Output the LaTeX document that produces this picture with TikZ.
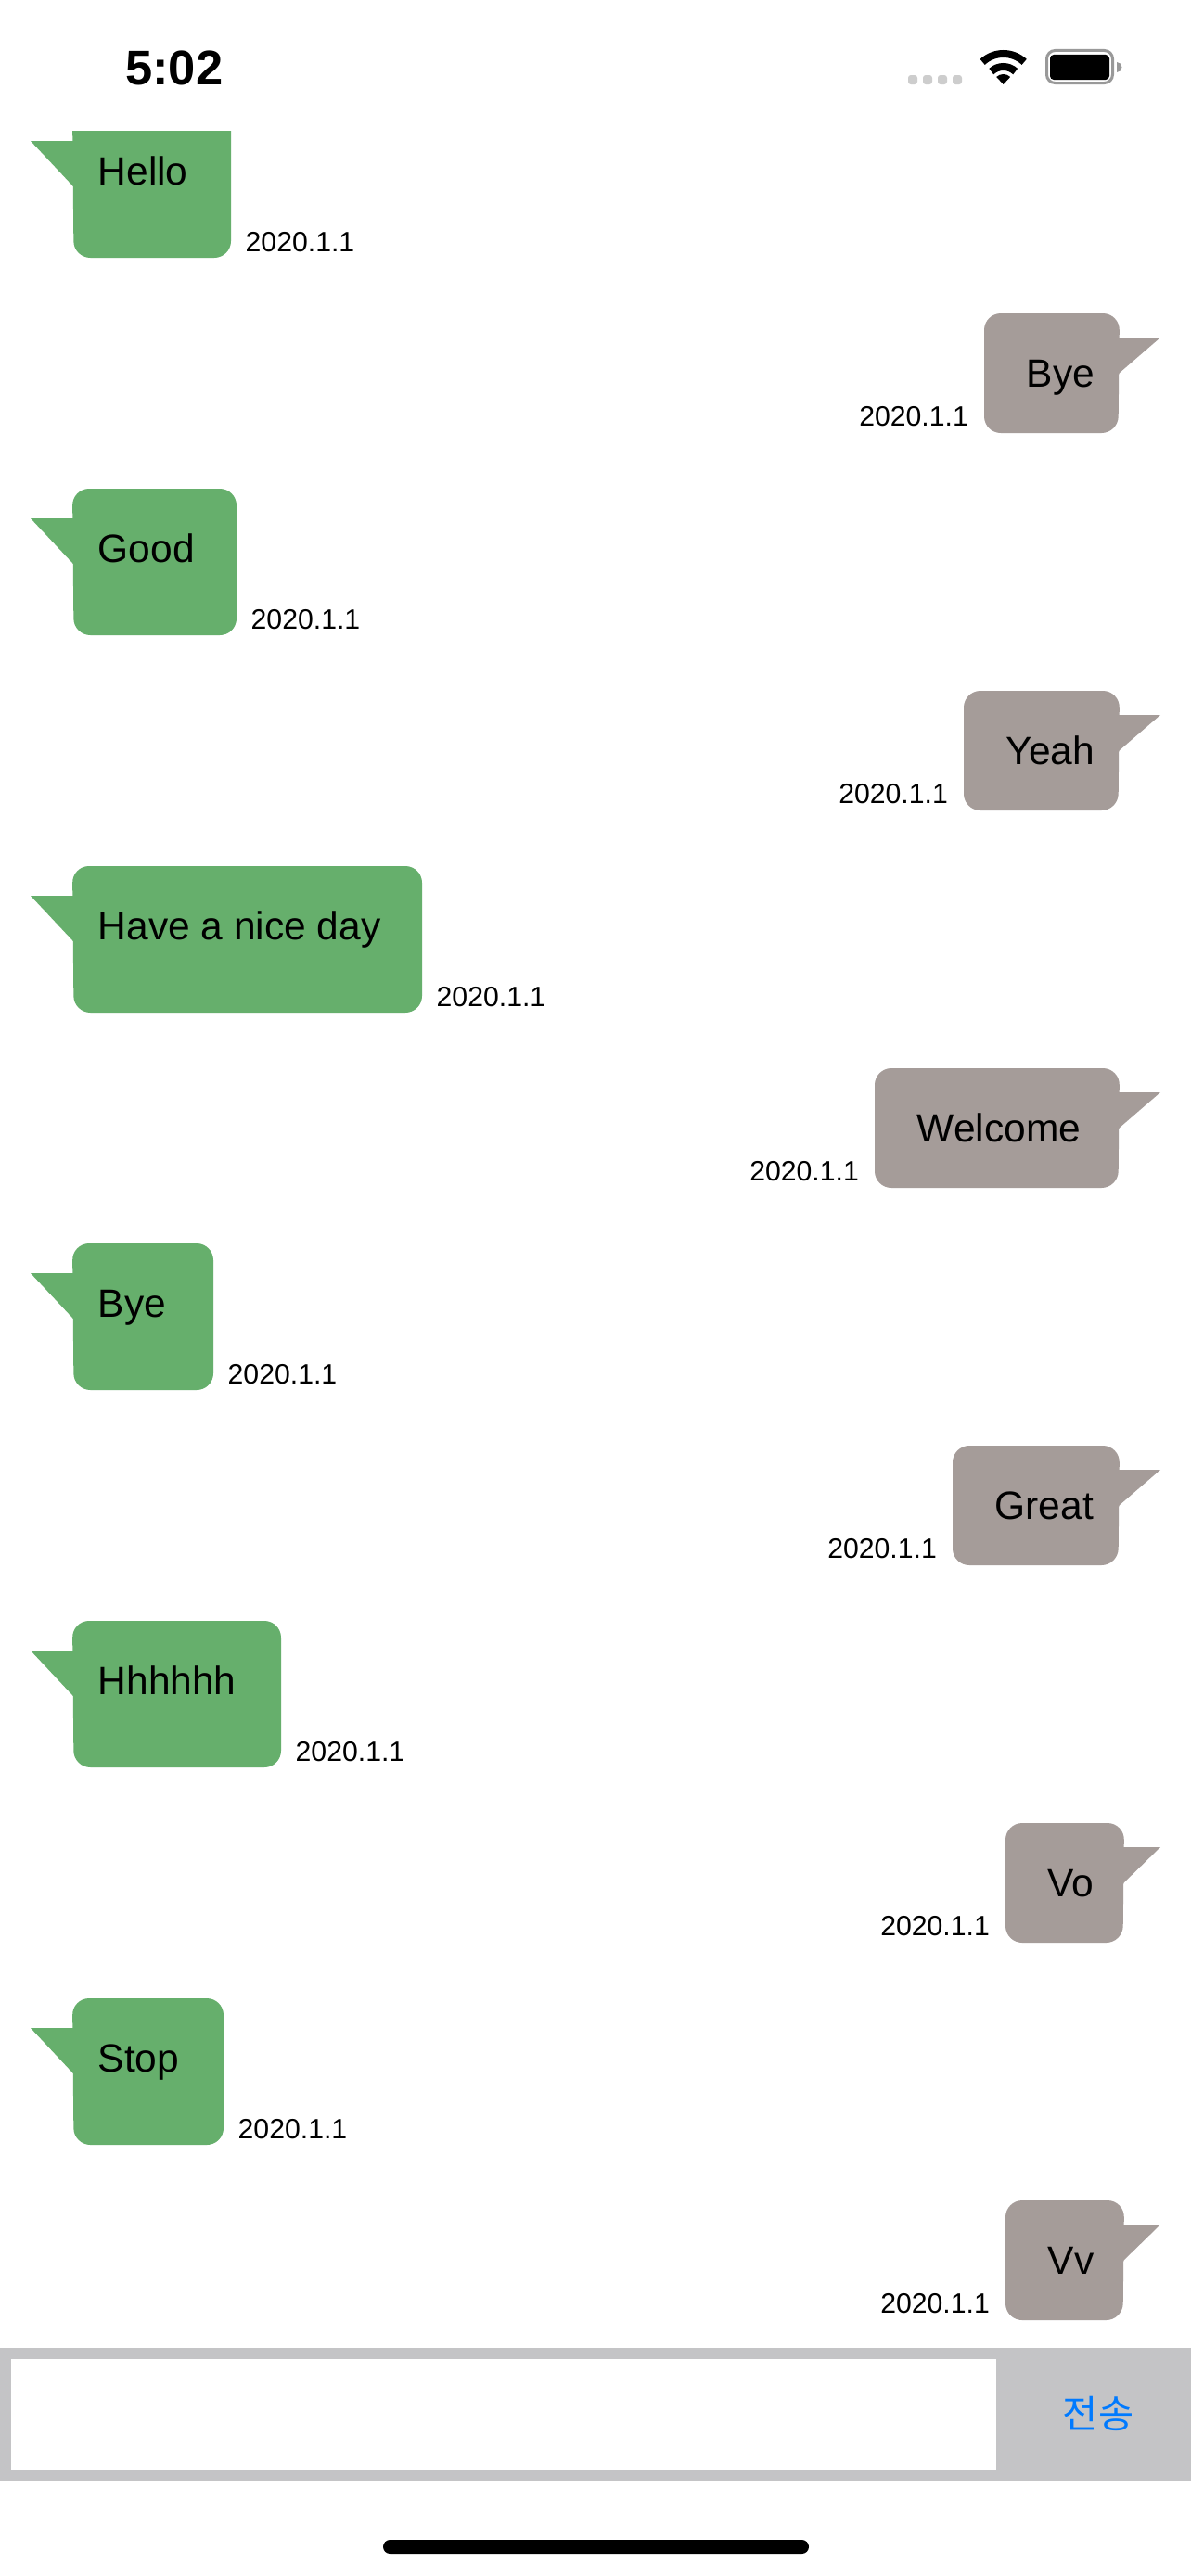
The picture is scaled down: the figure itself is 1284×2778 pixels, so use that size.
\documentclass[tikz,border=0pt]{standalone}
\usepackage{fontspec}
\setmainfont{Liberation Sans}
\newfontfamily\cjkfont{Noto Sans CJK KR}
\definecolor{bubblegreen}{HTML}{66AF6C}
\definecolor{bubblegray}{HTML}{A59C99}
\definecolor{barcolor}{HTML}{C4C4C6}
\definecolor{sendblue}{HTML}{007AFF}
\definecolor{dotgray}{HTML}{CDCDCD}
\definecolor{battgray}{HTML}{999999}
\tikzset{
  msgtext/.style={inner sep=0pt,font=\fontsize{42.5}{42}\selectfont,text=black},
  datetext/.style={inner sep=0pt,font=\fontsize{30.2}{30}\selectfont,text=black},
  sigdot/.style={fill=dotgray,rounded corners=3pt},
  wifiarc/.style={draw=black,line width=8pt},
}
% #1 name, #2 top, #3 right edge, #4 text
\newcommand{\greenbubble}[4]{
  \fill[bubblegreen,rounded corners=18pt] (78,#2) -- (#3,#2) -- (#3,#2+158) -- (79.5,#2+158) -- cycle;
  \fill[bubblegreen] (33,#2+32) -- (79,#2+32) -- (79,#2+81) -- (78,#2+80) -- cycle;
  \node[msgtext,anchor=base west] (#1) at (105.5,#2+79) {#4};
  \node[datetext,anchor=base west] (#1date) at (#3+15.5,#2+151) {2020.1.1};
}
% #1 name, #2 top, #3 left edge, #4 right edge, #5 text
\newcommand{\graybubble}[5]{
  \fill[bubblegray,rounded corners=18pt] (#3,#2) -- (#4,#2) -- (#4-1.5,#2+129) -- (#3,#2+129) -- cycle;
  \fill[bubblegray] (1251,#2+26) -- (#4-1,#2+26) -- (#4-1,#2+65) -- (#4,#2+64) -- cycle;
  \node[msgtext,anchor=base west] (#1) at (#3+45.5,#2+79) {#5};
  \node[datetext,anchor=base east] (#1date) at (#3-17,#2+121) {2020.1.1};
}
\begin{document}
\begin{tikzpicture}[x=1pt,y=-1pt]
\useasboundingbox (0,0) rectangle (1284,2778);
\fill[white] (0,0) rectangle (1284,2778);
% status bar
\node[inner sep=0pt,anchor=base west,font=\fontsize{52.5}{52}\selectfont\bfseries] (clock) at (135,91) {5:02};
\foreach \cx in {984,1000,1016,1032}
  \fill[sigdot] (\cx-5,81) rectangle (\cx+5,91);
\coordinate (wifi) at (1081.7,91);
\fill[black] (wifi) -- ++(-133:11) arc[start angle=-133,end angle=-47,radius=11] -- cycle;
\draw[wifiarc] ([shift={(-133:19)}]wifi) arc[start angle=-133,end angle=-47,radius=19];
\draw[wifiarc] ([shift={(-133:33)}]wifi) arc[start angle=-133,end angle=-47,radius=33];
\draw[battgray,line width=3pt,rounded corners=9pt] (1128.5,54.5) rectangle (1199.5,89.5);
\fill[black,rounded corners=4pt] (1132,59) rectangle (1196,86);
\fill[battgray] (1204,67) arc[start angle=-90,end angle=90,radius=5.5] -- cycle;
% messages
\begin{scope}
  \clip (0,141) rectangle (1284,2778);
  \greenbubble{m1}{120}{249}{Hello}
\end{scope}
\graybubble{m2}{338}{1061}{1207}{Bye}
\greenbubble{m3}{527}{255}{Good}
\graybubble{m4}{745}{1039}{1207}{Yeah}
\greenbubble{m5}{934}{455}{Have a nice day}
\graybubble{m6}{1152}{943}{1207}{Welcome}
\greenbubble{m7}{1341}{230}{Bye}
\graybubble{m8}{1559}{1027}{1207}{Great}
\greenbubble{m9}{1748}{303}{Hhhhhh}
\graybubble{m10}{1966}{1084}{1212}{Vo}
\greenbubble{m11}{2155}{241}{Stop}
\graybubble{m12}{2373}{1084}{1212}{Vv}
% input bar
\fill[barcolor] (0,2532) rectangle (1284,2676);
\fill[white] (12,2544) rectangle (1074,2664);
\node[inner sep=0pt,text=sendblue,font=\cjkfont\fontsize{41.5}{42}\selectfont] (send) at (1184,2603) {전송};
% home indicator
\fill[black,rounded corners=7.5pt] (413,2739) rectangle (872,2754);
\end{tikzpicture}
\end{document}
